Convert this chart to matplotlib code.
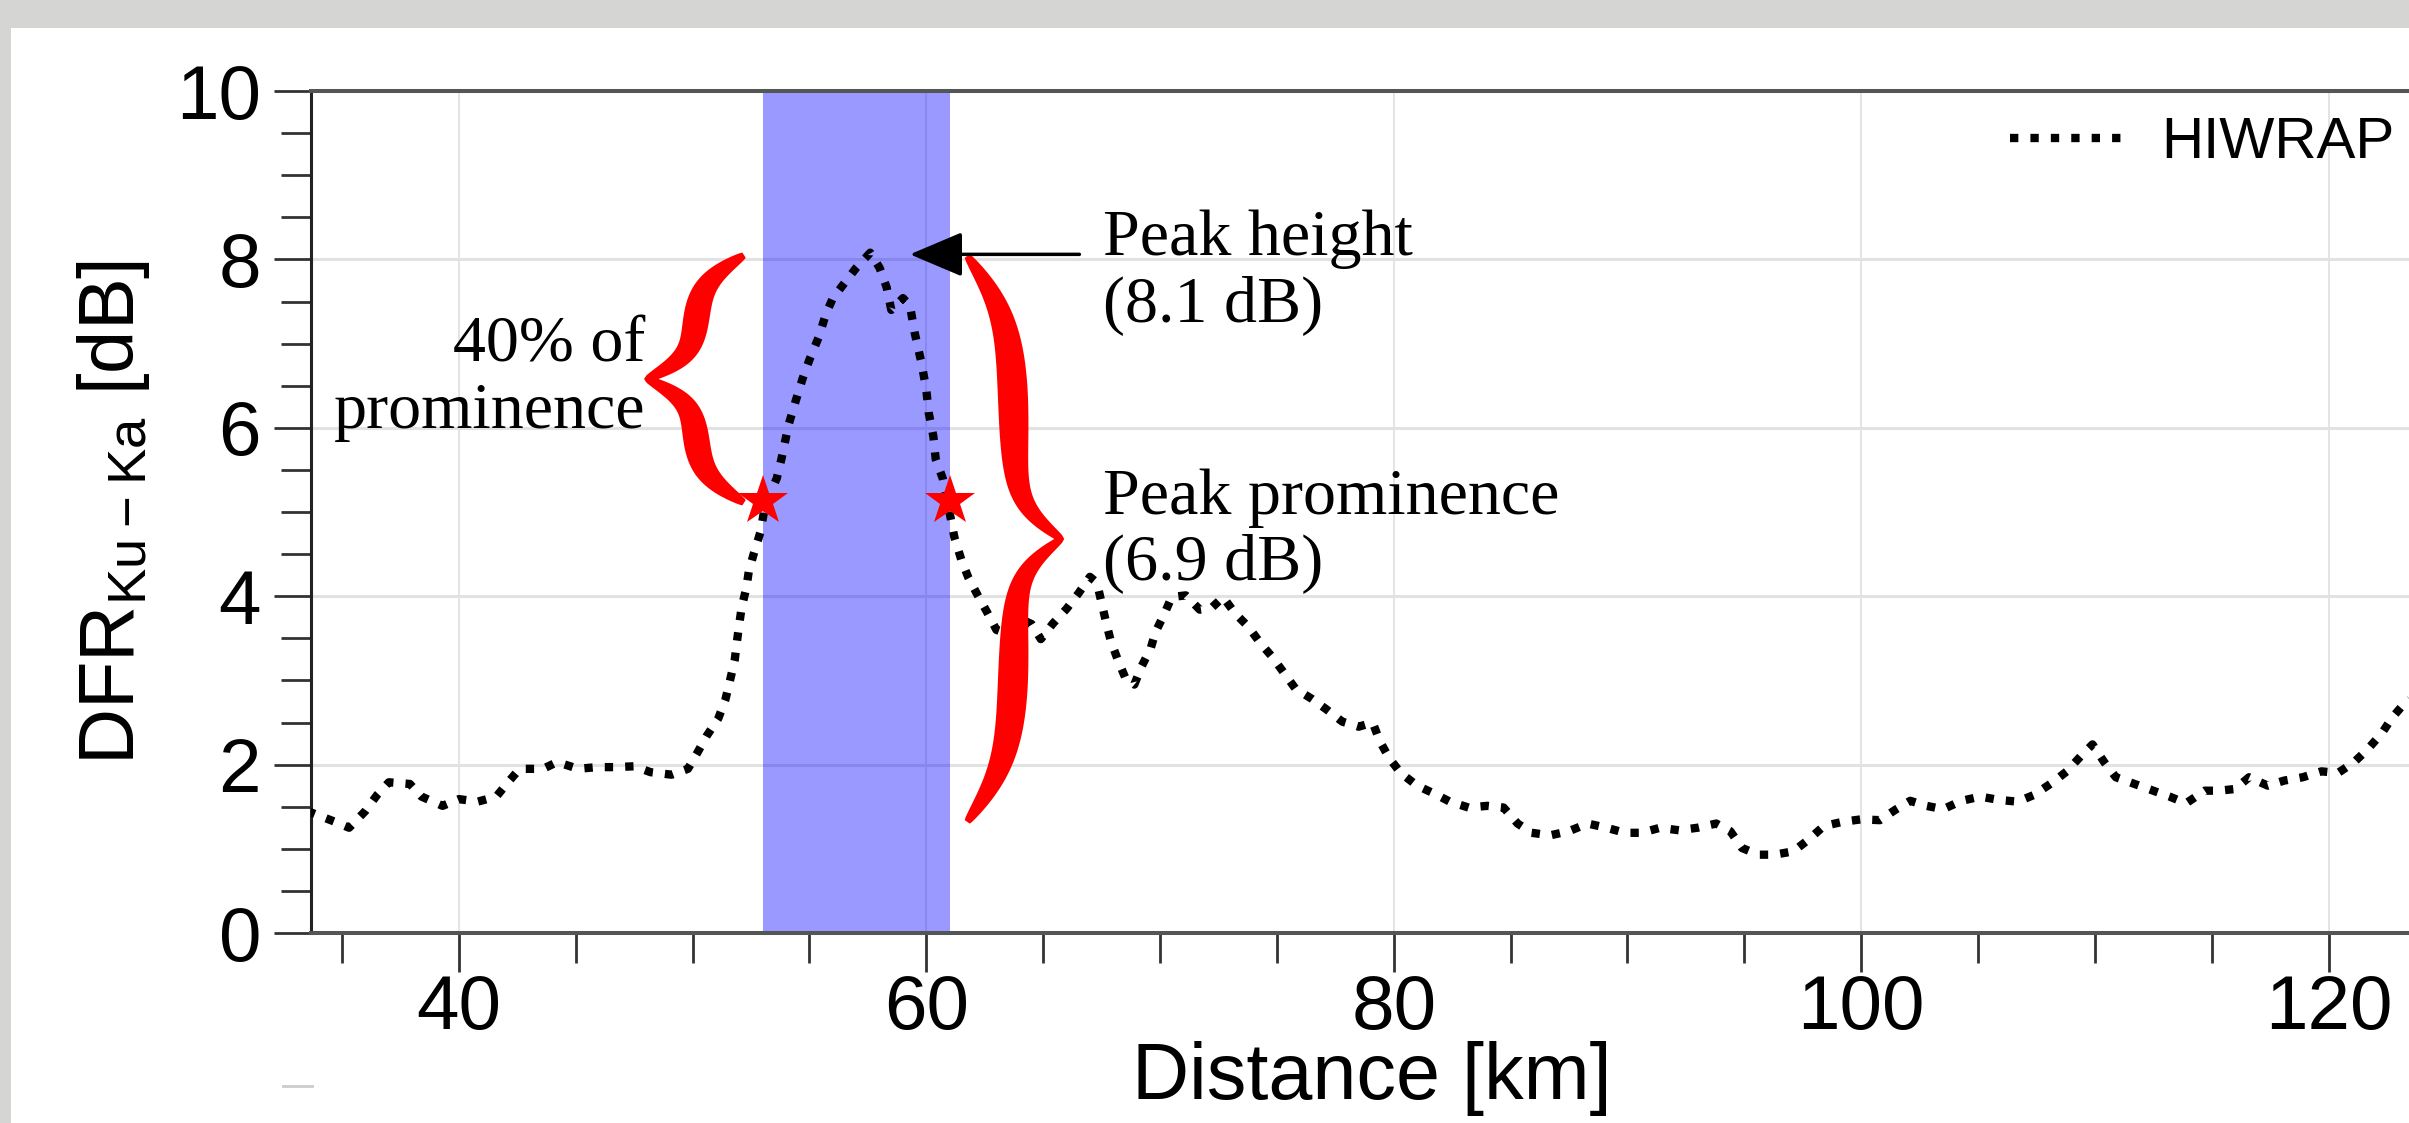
import numpy as np
import matplotlib
matplotlib.use('Agg')
import matplotlib.pyplot as plt
from matplotlib.patches import Polygon, Rectangle, FancyArrowPatch
from matplotlib.lines import Line2D
from matplotlib.ticker import MultipleLocator

## Data
dist_km = [33.5, 34.7, 35.3, 36.0, 36.5, 37.0, 37.9, 38.4, 39.3, 40.0,
           40.8, 41.6, 42.1, 42.6, 43.6, 44.2, 45.1, 45.9, 46.7, 47.5,
           48.2, 49.1, 49.8, 50.2, 50.6, 51.1, 51.4, 51.6, 51.8, 51.9,
           52.0, 52.1, 52.3, 52.4, 52.6, 52.9, 53.1, 53.6, 53.8, 54.1,
           54.4, 54.7, 55.0, 55.4, 55.7, 56.0, 56.5, 57.0, 57.6, 58.0,
           58.3, 58.5, 59.0, 59.3, 59.5, 59.8, 60.0, 60.1, 60.3, 60.4,
           60.7, 60.9, 61.2, 61.5, 61.8, 62.2, 62.6, 63.0, 63.5, 64.1,
           64.5, 64.9, 65.4, 66.0, 66.5, 67.0, 67.3, 67.5, 67.7, 67.9,
           68.2, 68.5, 68.9, 69.2, 69.6, 69.8, 70.2, 70.5, 71.1, 71.7,
           72.2, 72.7, 73.2, 73.8, 74.3, 74.8, 75.3, 75.8, 76.5, 77.1,
           77.8, 78.5, 79.1, 79.4, 79.8, 80.3, 81.0, 81.7, 82.4, 83.2,
           84.0, 84.7, 85.3, 85.9, 86.7, 87.5, 88.3, 89.1, 89.9, 90.6,
           91.4, 92.2, 93.0, 93.8, 94.4, 94.9, 95.6, 96.3, 97.1, 97.8,
           98.4, 99.2, 100.0, 100.8, 101.5, 102.1, 102.8, 103.5, 104.3, 105.1,
           105.9, 106.7, 107.4, 108.2, 108.8, 109.4, 109.9, 110.4, 110.9, 111.7,
           112.5, 113.2, 113.9, 114.7, 115.3, 116.0, 116.6, 117.4, 118.1, 118.9,
           119.7, 120.4, 121.1, 121.7, 122.3, 122.7, 123.1, 123.6, 124.4]
dfr_hiwrap = [1.45, 1.32, 1.25, 1.45, 1.64, 1.79, 1.77, 1.62, 1.51, 1.59,
              1.56, 1.62, 1.79, 1.95, 1.95, 2.03, 1.95, 1.97, 1.97, 1.98,
              1.91, 1.88, 1.95, 2.14, 2.34, 2.55, 2.77, 3.00, 3.24, 3.47,
              3.68, 3.87, 4.10, 4.29, 4.49, 4.76, 5.08, 5.40, 5.63, 6.03,
              6.31, 6.58, 6.81, 7.08, 7.35, 7.54, 7.72, 7.90, 8.08, 7.90,
              7.67, 7.40, 7.54, 7.45, 7.13, 6.76, 6.45, 6.18, 5.90, 5.63,
              5.40, 5.13, 4.70, 4.43, 4.22, 4.01, 3.81, 3.60, 3.55, 3.72,
              3.67, 3.49, 3.67, 3.85, 4.03, 4.23, 4.16, 3.92, 3.68, 3.46,
              3.24, 3.04, 2.95, 3.16, 3.38, 3.57, 3.80, 3.99, 4.01, 3.84,
              3.86, 3.99, 3.80, 3.63, 3.44, 3.28, 3.09, 2.90, 2.78, 2.66,
              2.51, 2.45, 2.50, 2.28, 2.08, 1.90, 1.75, 1.66, 1.56, 1.49,
              1.51, 1.49, 1.30, 1.19, 1.16, 1.21, 1.30, 1.25, 1.19, 1.19,
              1.25, 1.22, 1.25, 1.30, 1.21, 1.01, 0.93, 0.93, 0.97, 1.12,
              1.27, 1.32, 1.35, 1.34, 1.47, 1.57, 1.51, 1.47, 1.57, 1.62,
              1.58, 1.56, 1.64, 1.79, 1.92, 2.10, 2.24, 2.03, 1.85, 1.77,
              1.69, 1.62, 1.54, 1.69, 1.69, 1.71, 1.85, 1.75, 1.81, 1.85,
              1.92, 1.90, 2.03, 2.19, 2.38, 2.55, 2.68, 2.80, 2.95]

# peak properties
peak_x = 57.6
peak_height = 8.1
peak_prom = 6.9
width_lo, width_hi = 53.0, 61.0
width_level = 5.13

xticks = [40, 60, 80, 100, 120]
yticks = [0, 2, 4, 6, 8, 10]

## Style
plt.rcParams['font.family'] = ['Liberation Sans', 'DejaVu Sans']
plt.rcParams['mathtext.default'] = 'regular'
serif = ['Liberation Serif', 'DejaVu Serif']

W, H = 2409, 1123
fig = plt.figure(figsize=(W / 100, H / 100), dpi=100)
fig.patch.set_facecolor('#d5d5d3')
fig.add_artist(Rectangle((11 / W, 0), 1, 1 - 28 / H, transform=fig.transFigure,
                         fc='white', ec='none', zorder=-5))
fig.add_artist(Line2D([283 / W, 312 / W], [1 - 1086 / H] * 2,
                      transform=fig.transFigure, color='#cccccc', lw=2))

# axes run past the right edge of the picture (cropped screenshot)
ax = fig.add_axes([311 / W, 190 / H, 2122 / W, 842 / H])
ax.set_xlim(33.67, 124.47)
ax.set_ylim(0, 10)

ax.xaxis.set_major_locator(MultipleLocator(20))
ax.xaxis.set_minor_locator(MultipleLocator(5))
ax.yaxis.set_major_locator(MultipleLocator(2))
ax.yaxis.set_minor_locator(MultipleLocator(0.5))
ax.set_xticks(xticks)
ax.set_yticks(yticks)

ax.yaxis.grid(True, color='#e2e2e2', lw=2.2)
ax.xaxis.grid(True, color='#e2e2e2', lw=1.3)

for s in ['top', 'bottom']:
    ax.spines[s].set_color('#555555')
    ax.spines[s].set_linewidth(2.9)
ax.spines['left'].set_color('#222222')
ax.spines['left'].set_linewidth(2.2)
ax.spines['right'].set_visible(False)

ax.tick_params(which='both', direction='out', color='#333333', width=2,
               top=False, right=False, labelsize=55)
ax.tick_params(axis='y', which='major', length=27, pad=9)
ax.tick_params(axis='y', which='minor', length=21.6)
ax.tick_params(axis='x', which='major', length=28, pad=1.5)
ax.tick_params(axis='x', which='minor', length=21.6)

## Marks
ax.axvspan(width_lo, width_hi, color='blue', alpha=0.4, lw=0, zorder=2)
ax.plot(dist_km, dfr_hiwrap, color='black', lw=6, ls=(0, (1, 1.45)),
        label='HIWRAP', zorder=3)
ax.plot([width_lo, width_hi], [width_level, width_level], ls='none', marker='*',
        ms=38, color='red', mew=0, zorder=6)

# arrow to the peak
arr = FancyArrowPatch((66.55, 8.06), (peak_x + 1.7, 8.06), arrowstyle='-|>',
                      mutation_scale=1, lw=2.5, color='black', zorder=6,
                      shrinkA=0, shrinkB=0)
arr.set_arrowstyle('-|>', head_length=33, head_width=14)
ax.add_patch(arr)


def brace(x_end, y_lo, y_hi, depth, side, b_end, b_tip, w_max, w_min=3.0):
    # curly brace as filled polygon, built in pixels then put back in data
    (xe, ylo), (_, yhi) = ax.transData.transform([(x_end, y_lo), (x_end, y_hi)])
    L = (yhi - ylo) / 2
    t = np.linspace(0, L, 300)
    h = 1 / (1 + np.exp(-b_end * t)) + 1 / (1 + np.exp(-b_tip * (t - L)))
    h = (h - h[0]) / (h[-1] - h[0])
    tt = np.concatenate([t, 2 * L - t[::-1][1:]])
    hh = np.concatenate([h, h[::-1][1:]])
    x = xe + side * depth * hh
    y = ylo + tt
    s = tt / (2 * L)
    w = w_min + (w_max - w_min) * (np.sin(2 * np.pi * s) ** 2) ** 0.35
    dx, dy = np.gradient(x), np.gradient(y)
    n = np.hypot(dx, dy)
    nx, ny = -dy / n, dx / n
    a = np.column_stack([x + nx * w, y + ny * w])
    b = np.column_stack([x - nx * w, y - ny * w])
    pts = ax.transData.inverted().transform(np.vstack([a, b[::-1]]))
    ax.add_patch(Polygon(pts, closed=True, fc='red', ec='none', zorder=5,
                         clip_on=False))


brace(52.2, 5.11, 8.05, 97, -1, 0.065, 0.08, 13)
brace(61.75, 1.32, 8.04, 94, 1, 0.03, 0.055, 15)

## Text
txt = dict(family=serif, fontsize=47.5, va='baseline', linespacing=1.14, zorder=7)
ax.text(67.55, 7.26, 'Peak height\n(' + str(peak_height) + ' dB)', ha='left', **txt)
ax.text(67.55, 4.19, 'Peak prominence\n(' + str(peak_prom) + ' dB)', ha='left', **txt)
ax.text(47.96, 6.00, '40% of\nprominence', ha='right', multialignment='right', **txt)

ax.set_xlabel('Distance [km]', fontsize=57)
ax.xaxis.set_label_coords(0.5, (933 - 1041) / 842)
ax.set_ylabel(r'DFR$_{Ku-Ka}$ [dB]', fontsize=56)
ax.yaxis.set_label_coords((152 - 311) / 2122, 0.5)

ax.legend(loc='center left', bbox_to_anchor=(2010 / W, 1 - 143 / H),
          bbox_transform=fig.transFigure, frameon=False, fontsize=42,
          handlelength=2.05, handletextpad=0.55, borderpad=0, borderaxespad=0)

fig.savefig('out.png', dpi=100, facecolor=fig.get_facecolor())
